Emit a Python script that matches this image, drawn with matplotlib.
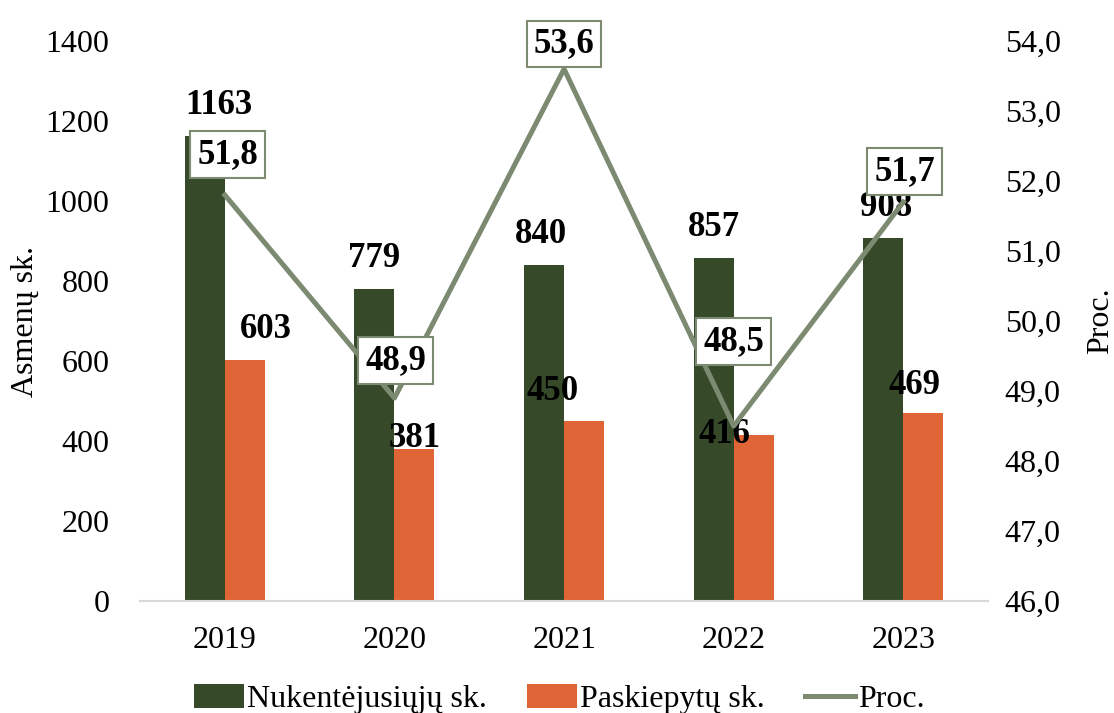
import matplotlib.pyplot as plt
import numpy as np

years = ['2019', '2020', '2021', '2022', '2023']
nukentejusiu = [1163, 779, 840, 857, 908]
paskiepytu = [603, 381, 450, 416, 469]
proc = [51.8, 48.9, 53.6, 48.5, 51.7]

# label offsets in points (dx, dy), tuned by eye
off_green = [(10, 22), (0, 22), (-2, 22), (0, 22), (2, 22)]
off_orange = [(15, 22), (0, 7), (-23, 21), (-21, 0), (-6, 20)]
off_line = [(2, 29), (1, 27), (0, 18), (0, 61), (1, 22)]

plt.rcParams['font.family'] = ['Liberation Serif', 'DejaVu Serif']

green = '#364A2A'
orange = '#DF6436'
linec = '#7B8A70'

fig = plt.figure(figsize=(11.14, 7.13), dpi=100)
ax = fig.add_axes([0.1257, 0.157, 0.7613, 0.7855])
ax2 = ax.twinx()

x = np.arange(len(years))
w = 0.236
b1 = ax.bar(x - w / 2, nukentejusiu, w, color=green, label='Nukentėjusiųjų sk.')
b2 = ax.bar(x + w / 2, paskiepytu, w, color=orange, label='Paskiepytų sk.')
ln, = ax2.plot(x, proc, color=linec, lw=3.6, label='Proc.')

ax.set_xlim(-0.5, len(years) - 0.5)
ax.set_ylim(0, 1400)
ax.set_yticks(range(0, 1401, 200))
ax2.set_ylim(46, 54)
ax2.set_yticks(np.arange(46, 54.1, 1))
ax2.set_yticklabels([f'{v:.1f}'.replace('.', ',') for v in np.arange(46, 54.1, 1)])
ax.set_xticks(x)
ax.set_xticklabels(years)

for a in (ax, ax2):
    for s in a.spines.values():
        s.set_visible(False)
    a.tick_params(length=0, labelsize=23)
ax.spines['bottom'].set_visible(True)
ax.spines['bottom'].set_color('#D9D9D9')
ax.spines['bottom'].set_linewidth(1.5)
ax.tick_params(axis='x', pad=18)
ax.tick_params(axis='y', pad=22)
ax2.tick_params(axis='y', pad=12)

ax.set_ylabel('Asmenų sk.', fontsize=23, labelpad=4)
ax2.set_ylabel('Proc.', fontsize=23, labelpad=18)

for i in range(len(years)):
    ax.annotate(str(nukentejusiu[i]), (x[i] - w / 2, nukentejusiu[i]),
                xytext=off_green[i], textcoords='offset points',
                ha='center', va='center', fontsize=25, fontweight='bold')
    ax.annotate(str(paskiepytu[i]), (x[i] + w / 2, paskiepytu[i]),
                xytext=off_orange[i], textcoords='offset points',
                ha='center', va='center', fontsize=25, fontweight='bold')
    ax2.annotate(f'{proc[i]:.1f}'.replace('.', ','), (x[i], proc[i]),
                 xytext=off_line[i], textcoords='offset points',
                 ha='center', va='center', fontsize=25, fontweight='bold',
                 bbox=dict(boxstyle='square,pad=0.2', fc='white', ec=linec, lw=1.5))

fig.legend(handles=[b1, b2, ln], loc='lower center', bbox_to_anchor=(0.502, -0.042),
           ncol=3, frameon=False, fontsize=23, handlelength=1.56, handleheight=0.75,
           handletextpad=0.1, columnspacing=1.25)

fig.savefig('out.png', dpi=100)
